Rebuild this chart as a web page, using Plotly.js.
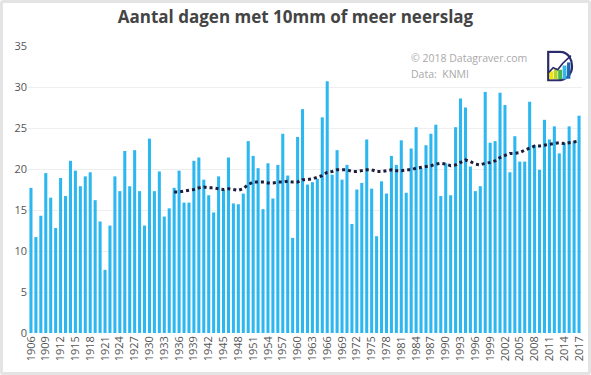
<!DOCTYPE html>
<html>
<head>
<meta charset="utf-8">
<script src="https://cdn.plot.ly/plotly-3.0.1.min.js"></script>
<style>
  html,body{margin:0;padding:0;background:#fff;}
  #wrap{position:relative;width:591px;height:375px;}
  #chart{width:591px;height:375px;}
  #frame{position:absolute;left:0;top:0;width:591px;height:375px;box-sizing:border-box;border:3px solid #e4e4e4;border-radius:3px;pointer-events:none;}
</style>
</head>
<body>
<div id="wrap"><div id="chart"></div><div id="frame"></div></div>
<script>
const years = [];
for (let y = 1906; y <= 2017; y++) years.push(y);

const days = [
  17.7, 11.7, 14.3, 19.5, 16.5, 12.8, 18.9, 16.7, 21.0, 19.8,
  17.9, 19.1, 19.6, 16.2, 13.6, 7.7, 13.1, 19.1, 17.3, 22.2,
  17.9, 22.3, 17.3, 13.1, 23.7, 17.3, 19.7, 14.2, 15.2, 17.7,
  19.8, 15.9, 15.9, 21.0, 21.4, 18.7, 16.8, 14.7, 19.1, 17.4,
  21.4, 15.8, 15.7, 17.0, 23.4, 21.6, 20.1, 15.1, 20.7, 16.4,
  20.5, 24.3, 19.2, 11.6, 23.9, 27.3, 18.1, 18.4, 18.8, 26.3,
  30.7, 19.3, 22.3, 18.7, 20.5, 13.3, 17.5, 18.3, 23.6, 17.6,
  11.8, 18.5, 17.0, 21.6, 20.5, 23.5, 17.1, 22.5, 25.1, 20.1,
  22.9, 24.3, 25.4, 16.7, 20.7, 16.8, 25.1, 28.6, 27.5, 20.3,
  17.3, 17.9, 29.4, 23.2, 23.4, 29.3, 27.8, 19.6, 24.0, 20.9,
  20.9, 28.2, 22.9, 19.9, 26.0, 23.6, 25.2, 21.9, 23.2, 25.2,
  23.4, 26.5
];

const trendYears = [];
for (let y = 1935; y <= 2017; y++) trendYears.push(y);
const trend = [
  17.2, 17.2, 17.3, 17.4, 17.5, 17.7, 17.8, 17.7, 17.7, 17.6,
  17.5, 17.6, 17.5, 17.4, 17.6, 18.1, 18.4, 18.4, 18.4, 18.3,
  18.3, 18.4, 18.4, 18.5, 18.4, 18.4, 18.7, 18.7, 18.8, 19.0,
  19.2, 19.6, 19.7, 19.9, 19.9, 19.9, 19.7, 19.7, 19.8, 19.9,
  19.9, 19.7, 19.7, 19.8, 19.9, 19.8, 19.8, 19.9, 19.9, 20.1,
  20.2, 20.3, 20.4, 20.6, 20.7, 20.6, 20.4, 20.5, 20.8, 21.1,
  20.9, 20.6, 20.5, 20.7, 20.8, 21.0, 21.4, 21.7, 21.9, 21.9,
  22.0, 22.3, 22.6, 22.8, 22.8, 22.9, 23.0, 23.1, 23.2, 23.1,
  23.2, 23.3, 23.4
];

const titleText = 'Aantal dagen met 10mm of meer neerslag';
const creditLines = ['© 2018 Datagraver.com', 'Data:  KNMI'];

const logoSvg = '<svg xmlns="http://www.w3.org/2000/svg" viewBox="0 0 100 120">' +
  '<path d="M8 6 H50 C85 6 94 40 94 62 C94 92 72 114 42 114 H8 Z" fill="#fff" stroke="#2b2a6b" stroke-width="8"/>' +
  '<rect x="12" y="80" width="14" height="30" fill="#f2e600"/>' +
  '<rect x="28" y="70" width="14" height="40" fill="#b5d334"/>' +
  '<rect x="44" y="74" width="14" height="36" fill="#4cb748"/>' +
  '<rect x="60" y="58" width="14" height="52" fill="#35b5e9"/>' +
  '<rect x="76" y="46" width="12" height="62" fill="#2565ad"/>' +
  '<polyline points="8,86 26,66 42,74 60,50 90,20" fill="none" stroke="#2b2a6b" stroke-width="6"/>' +
  '</svg>';

const data = [
  {
    type: 'bar',
    x: years,
    y: days,
    marker: {color: '#2db7f0'},
    hoverinfo: 'x+y'
  },
  {
    type: 'scatter',
    mode: 'lines',
    x: trendYears,
    y: trend,
    line: {color: '#1c1c3c', width: 3, dash: 'dot'},
    hoverinfo: 'skip'
  }
];

const layout = {
  width: 591,
  height: 375,
  margin: {l: 28, r: 9, t: 46, b: 42},
  paper_bgcolor: '#ffffff',
  plot_bgcolor: '#ffffff',
  showlegend: false,
  bargap: 0.38,
  font: {family: '"Open Sans", "Noto Sans", sans-serif', color: '#555555'},
  title: {
    text: '<b>' + titleText + '</b>',
    x: 0.5, xanchor: 'center', y: 0.955, yanchor: 'middle',
    font: {family: '"Open Sans", "Noto Sans", sans-serif', size: 17, color: '#444444'}
  },
  xaxis: {
    range: [1905.4, 2017.6],
    tickmode: 'linear',
    tick0: 1906,
    dtick: 3,
    tickangle: -90,
    tickfont: {size: 11, color: '#555555'},
    showgrid: false,
    zeroline: false,
    showline: false,
    ticks: '',
    fixedrange: true
  },
  yaxis: {
    range: [0, 35],
    tickmode: 'linear',
    tick0: 0,
    dtick: 5,
    tickfont: {size: 11, color: '#555555'},
    gridcolor: '#eeeeee',
    gridwidth: 1,
    zeroline: false,
    showline: false,
    ticks: '',
    ticklen: 4,
    fixedrange: true
  },
  annotations: [
    {
      xref: 'paper', yref: 'paper', x: 0.688, y: 0.958, xanchor: 'left', yanchor: 'middle',
      text: creditLines[0], showarrow: false,
      font: {size: 10.5, color: '#a9a9a9'}
    },
    {
      xref: 'paper', yref: 'paper', x: 0.688, y: 0.904, xanchor: 'left', yanchor: 'middle',
      text: creditLines[1], showarrow: false,
      font: {size: 10.5, color: '#a9a9a9'}
    }
  ],
  images: [
    {
      source: 'data:image/svg+xml;utf8,' + encodeURIComponent(logoSvg),
      xref: 'paper', yref: 'paper',
      x: 0.935, y: 0.985, sizex: 0.05, sizey: 0.11,
      xanchor: 'left', yanchor: 'top', sizing: 'stretch', layer: 'above'
    }
  ]
};

Plotly.newPlot('chart', data, layout, {displayModeBar: false, staticPlot: true});
</script>
</body>
</html>
